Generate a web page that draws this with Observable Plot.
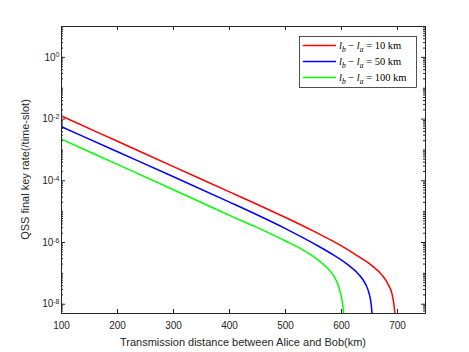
<!DOCTYPE html>
<html>
<head>
<meta charset="utf-8">
<script src="https://cdn.jsdelivr.net/npm/d3@7"></script>
<script src="https://cdn.jsdelivr.net/npm/@observablehq/plot@0.6"></script>
<style>
  html, body { margin: 0; padding: 0; background: #fff; }
  #chart { width: 469px; height: 352px; }
</style>
</head>
<body>
<div id="chart"></div>
<script>
// ---- Data ----
const seriesNames = ["10 km", "50 km", "100 km"];
const seriesColors = ["#ff0000", "#0000ff", "#00ff00"];

const distance10 = [100, 200, 300, 400, 450, 500, 550, 600, 630, 655, 672, 684, 690, 693.5, 695.5];
const rate10     = [1.259e-2, 1.905e-3, 2.884e-4, 4.365e-5, 1.698e-5, 6.457e-6, 2.344e-6, 7.762e-7, 3.548e-7, 1.738e-7, 8.913e-8, 4.169e-8, 2.239e-8, 1e-8, 5e-9];

const distance50 = [100, 200, 300, 400, 450, 500, 550, 580, 610, 630, 643, 650, 653, 654.5];
const rate50     = [5.623e-3, 8.71e-4, 1.349e-4, 2.042e-5, 7.762e-6, 2.818e-6, 9.333e-7, 4.571e-7, 1.995e-7, 9.55e-8, 4.467e-8, 1.995e-8, 1e-8, 5e-9];

const distance100 = [100, 200, 300, 400, 450, 500, 530, 555, 572, 586, 594, 599, 602, 603.8];
const rate100     = [2.239e-3, 3.388e-4, 5.129e-5, 7.586e-6, 3.02e-6, 1.122e-6, 5.888e-7, 3.02e-7, 1.66e-7, 8.318e-8, 4.169e-8, 1.995e-8, 1e-8, 5e-9];

const xTicks = [100, 200, 300, 400, 500, 600, 700];
const yMajorTicks = [1e-8, 1e-6, 1e-4, 1e-2, 1];
const xDomain = [100, 750];
const yDomain = [5e-9, 10];

const xLabel = "Transmission distance between Alice and Bob(km)";
const yLabel = "QSS final key rate(/time-slot)";

// ---- Build table ----
const rows = [];
[[distance10, rate10], [distance50, rate50], [distance100, rate100]].forEach(([ds, rs], i) => {
  ds.forEach((d, j) => rows.push({series: seriesNames[i], distance: d, rate: rs[j]}));
});

// minor ticks for log axis (2..9 in each decade, and odd decades)
const yMinorTicks = [];
for (let e = -9; e <= 1; e++) {
  for (let k = 1; k <= 9; k++) {
    const v = k * Math.pow(10, e);
    if (v >= yDomain[0] && v <= yDomain[1] && !yMajorTicks.some(t => Math.abs(t - v) / v < 1e-9)) yMinorTicks.push(v);
  }
}

const W = 469, H = 352;
const mL = 61, mR = 44, mT = 26, mB = 39;
const pw = W - mL - mR, ph = H - mT - mB;
const axisColor = "#262626";

const chart = Plot.plot({
  width: W, height: H,
  marginLeft: mL, marginRight: mR, marginTop: mT, marginBottom: mB,
  style: {fontFamily: "'Liberation Sans', Arial, sans-serif", fontSize: "10px", color: axisColor, background: "#fff"},
  x: {domain: xDomain},
  y: {type: "log", domain: yDomain},
  color: {domain: seriesNames, range: seriesColors},
  marks: [
    Plot.line(rows, {x: "distance", y: "rate", z: "series", stroke: "series", strokeWidth: 1.5, curve: "monotone-x", clip: true}),
    // x tick labels
    Plot.axisX({ticks: xTicks, tickSize: 0, tickPadding: 8, tickFormat: d => String(d), label: null, fill: axisColor}),
    // x ticks inward (bottom & top)
    Plot.tickX(xTicks, {x: d => d, insetTop: ph - 4, stroke: axisColor}),
    Plot.tickX(xTicks, {x: d => d, insetBottom: ph - 4, stroke: axisColor}),
    // y tick labels
    Plot.axisY({ticks: yMajorTicks, tickSize: 0, tickPadding: 2, tickFormat: d => "10^" + Math.round(Math.log10(d)), label: null, fill: axisColor}),
    // y major ticks inward (left & right)
    Plot.tickY(yMajorTicks, {y: d => d, insetRight: pw - 4, stroke: axisColor}),
    Plot.tickY(yMajorTicks, {y: d => d, insetLeft: pw - 4, stroke: axisColor}),
    // y minor ticks
    Plot.tickY(yMinorTicks, {y: d => d, insetRight: pw - 2, stroke: axisColor}),
    Plot.tickY(yMinorTicks, {y: d => d, insetLeft: pw - 2, stroke: axisColor}),
    Plot.frame({stroke: axisColor})
  ]
});

document.getElementById("chart").appendChild(chart);

const svg = d3.select(chart);

// superscript tick labels
svg.selectAll("text").each(function() {
  const t = d3.select(this);
  const m = /^10\^(-?\d+)$/.exec(this.textContent);
  if (m) {
    t.text(null);
    t.append("tspan").text("10");
    t.append("tspan").attr("dy", "-0.45em").attr("font-size", "7px").text(m[1]);
  }
});

// axis titles
svg.append("text")
  .attr("x", mL + pw / 2).attr("y", H - 6)
  .attr("text-anchor", "middle")
  .attr("font-family", "'Liberation Sans', Arial, sans-serif")
  .attr("font-size", "11px").attr("fill", axisColor)
  .text(xLabel);

svg.append("text")
  .attr("transform", `translate(${29},${mT + ph / 2}) rotate(-90)`)
  .attr("text-anchor", "middle")
  .attr("font-family", "'Liberation Sans', Arial, sans-serif")
  .attr("font-size", "11px").attr("fill", axisColor)
  .text(yLabel);

// legend (top-right inside axes)
const lg = svg.append("g").attr("transform", `translate(${W - mR - 126},${mT + 10})`);
lg.append("rect").attr("x", 0.5).attr("y", 0.5).attr("width", 117).attr("height", 51)
  .attr("fill", "#fff").attr("stroke", axisColor).attr("stroke-width", 0.8);
seriesNames.forEach((name, i) => {
  const yy = 9.5 + i * 16;
  lg.append("line").attr("x1", 4).attr("x2", 37).attr("y1", yy).attr("y2", yy)
    .attr("stroke", seriesColors[i]).attr("stroke-width", 1.5);
  const tx = lg.append("text").attr("x", 40).attr("y", yy + 3.5)
    .attr("text-anchor", "start")
    .attr("font-family", "'Liberation Serif', 'DejaVu Serif', serif")
    .attr("font-size", "10.5px").attr("fill", "#000");
  tx.append("tspan").attr("font-style", "italic").text("l");
  tx.append("tspan").attr("font-style", "italic").attr("font-size", "7.5px").attr("dy", "2.5").text("b");
  tx.append("tspan").attr("dy", "-2.5").text("\u00a0−\u00a0");
  tx.append("tspan").attr("font-style", "italic").text("l");
  tx.append("tspan").attr("font-style", "italic").attr("font-size", "7.5px").attr("dy", "2.5").text("a");
  tx.append("tspan").attr("dy", "-2.5").text("\u00a0=\u00a0" + name.replace(" ", "\u00a0"));
});
</script>
</body>
</html>
